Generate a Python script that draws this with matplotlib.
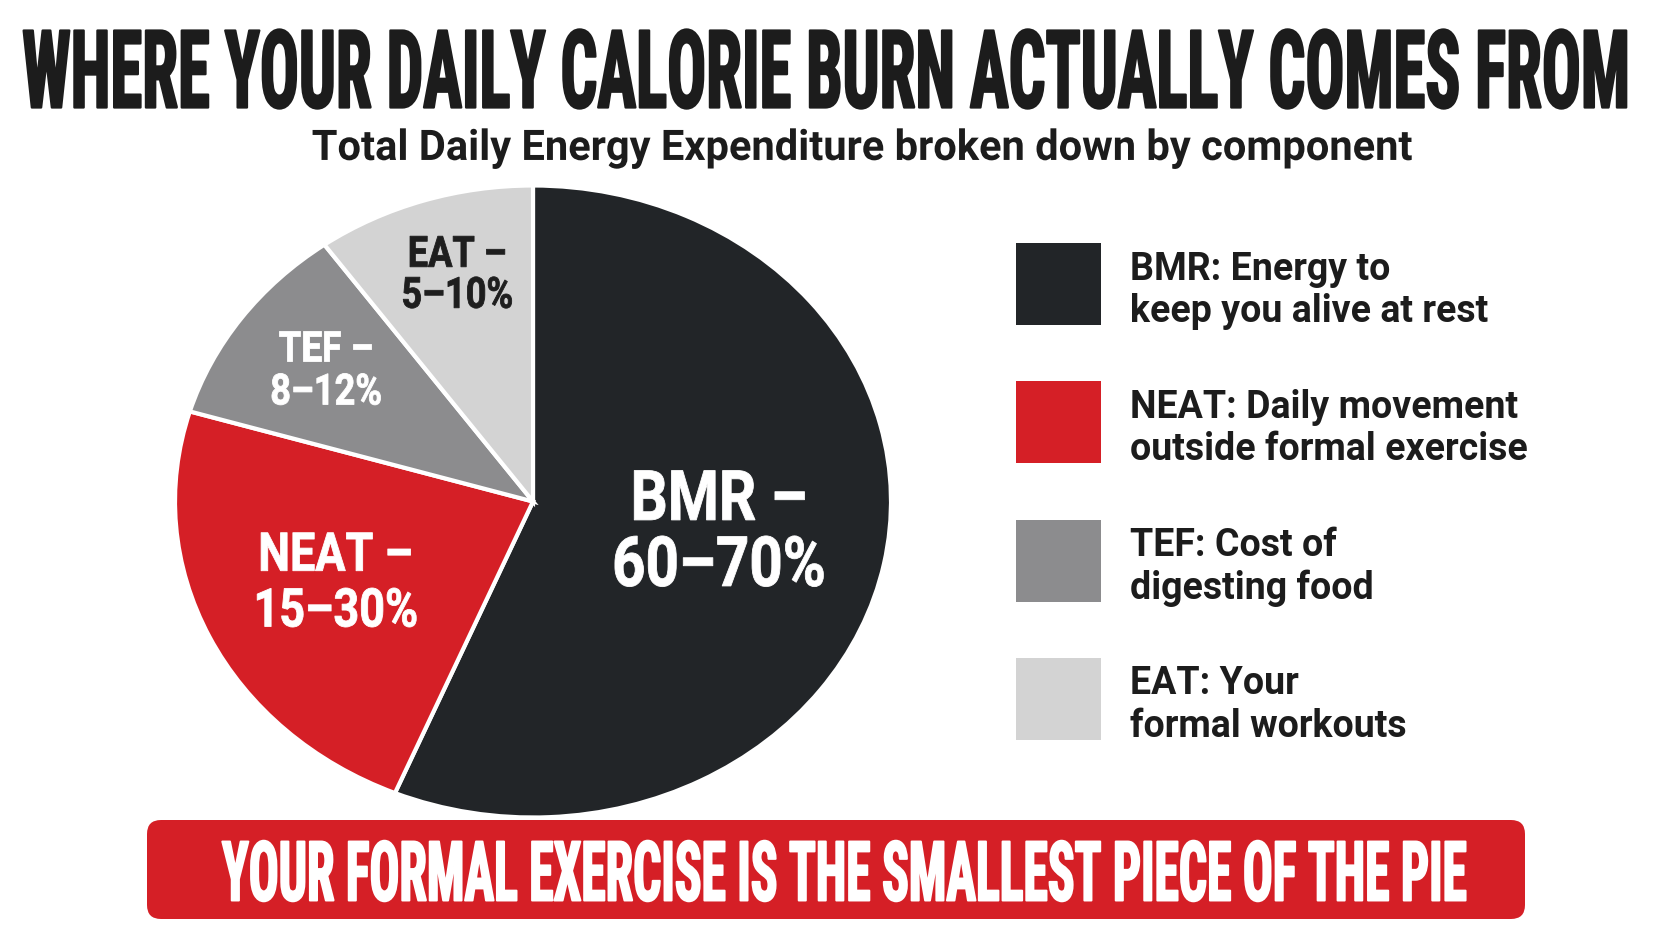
import numpy as np
import matplotlib
matplotlib.use('Agg')
import matplotlib.pyplot as plt
from matplotlib import font_manager as fm
from matplotlib.patches import FancyBboxPatch
from matplotlib.patheffects import AbstractPathEffect
from matplotlib.transforms import Affine2D
from matplotlib.textpath import TextPath

# ---------------- data ----------------
components = ['BMR', 'NEAT', 'TEF', 'EAT']
shares = [56.3, 23.3, 10.5, 9.9]
slice_labels = ['BMR –\n60–70%', 'NEAT –\n15–30%', 'TEF –\n8–12%', 'EAT –\n5–10%']
legend_labels = ['BMR: Energy to\nkeep you alive at rest',
                 'NEAT: Daily movement\noutside formal exercise',
                 'TEF: Cost of\ndigesting food',
                 'EAT: Your\nformal workouts']
title_text = 'WHERE YOUR DAILY CALORIE BURN ACTUALLY COMES FROM'
subtitle_text = 'Total Daily Energy Expenditure broken down by component'
banner_text = 'YOUR FORMAL EXERCISE IS THE SMALLEST PIECE OF THE PIE'

# ---------------- style ----------------
slice_colors = ['#222528', '#D51F26', '#8C8C8E', '#D3D3D3']
label_colors = ['white', 'white', 'white', '#1E1E1E']
label_radius = [0.53, 0.61, 0.71, 0.745]
label_angle_shift = [0, 0, 0, -1.3]
label_sizes = [50, 38.5, 31, 31]
label_spacing = [1.02, 1.12, 1.07, 1.0]
TEXT_DARK = '#1C1C1C'
RED = '#D51F26'

W, H, DPI = 1672, 941, 100
fig = plt.figure(figsize=(W / DPI, H / DPI), dpi=DPI)
fig.patch.set_facecolor('white')
renderer = fig.canvas.get_renderer()


def pick(names):
    have = {f.name for f in fm.fontManager.ttflist}
    for n in names:
        if n in have:
            return n
    return 'DejaVu Sans'


COND = pick(['Liberation Sans Narrow', 'DejaVu Sans Condensed', 'Roboto Condensed', 'DejaVu Sans'])
SANS = pick(['Roboto', 'Inter', 'Open Sans', 'DejaVu Sans'])


class Tall(AbstractPathEffect):
    """Draw glyph outlines scaled about their own centre (poster-style condensed type)."""

    def __init__(self, sy=1.0, sx=1.0, stroke=0.0):
        super().__init__()
        self.sy, self.sx, self.stroke = sy, sx, stroke

    def draw_path(self, renderer, gc, tpath, affine, rgbFace=None):
        ext = tpath.get_extents(affine)
        cx, cy = (ext.x0 + ext.x1) / 2, (ext.y0 + ext.y1) / 2
        tr = affine + Affine2D().translate(-cx, -cy).scale(self.sx, self.sy).translate(cx, cy)
        gc0 = renderer.new_gc()
        gc0.copy_properties(gc)
        if self.stroke > 0 and rgbFace is not None:
            gc0.set_linewidth(self.stroke)
            gc0.set_foreground(rgbFace)
            gc0.set_joinstyle('round')
        renderer.draw_path(gc0, tpath, tr, rgbFace)
        gc0.restore()


def cap_ratio(family, weight='bold'):
    fp = fm.FontProperties(family=family, weight=weight)
    return TextPath((0, 0), 'H', size=1, prop=fp).get_extents().height


def fitted_text(s, family, target_w, cap_px, center_px, color, x_px=W / 2,
                stroke=0.0, weight='bold'):
    t = fig.text(x_px / W, 0.5, s, ha='center', va='baseline', family=family,
                 fontweight=weight, color=color, fontsize=30, zorder=5)
    for _ in range(3):
        w = t.get_window_extent(renderer).width
        t.set_fontsize(t.get_fontsize() * target_w / w)
    em_px = t.get_fontsize() * DPI / 72
    cap_pre = cap_ratio(family, weight) * em_px
    t.set_path_effects([Tall(sy=cap_px / cap_pre, stroke=stroke)])
    t.set_y(1 - (center_px + cap_pre / 2) / H)
    return t


# ---------------- title / subtitle ----------------
fitted_text(title_text, COND, 1608, 77, 69, TEXT_DARK, x_px=827, stroke=1.6)
fitted_text(subtitle_text, SANS, 1100, 30, 145, TEXT_DARK, x_px=862)

# ---------------- pie ----------------
cx, cy, rx, ry = 533, 501.5, 358, 316
lim = 1.1
ax = fig.add_axes([(cx - lim * rx) / W, (H - cy - lim * ry) / H, 2 * lim * rx / W, 2 * lim * ry / H])
wedges, _ = ax.pie(shares, colors=slice_colors, startangle=90, counterclock=False,
                   wedgeprops=dict(edgecolor='white', linewidth=3))
ax.set_aspect('auto')
ax.set_xlim(-lim, lim)
ax.set_ylim(-lim, lim)
ax.axis('off')

for w, lab, col, r, da, fs, ls in zip(wedges, slice_labels, label_colors, label_radius,
                                      label_angle_shift, label_sizes, label_spacing):
    th = np.deg2rad((w.theta1 + w.theta2) / 2 + da)
    t = ax.text(r * np.cos(th), r * np.sin(th), lab, ha='center', va='center',
                multialignment='center', color=col, fontsize=fs, fontweight='bold',
                family=SANS, linespacing=ls)
    t.set_path_effects([Tall(sx=0.84, sy=1.0, stroke=0.6)])

# ---------------- legend ----------------
lf = 27
lpx = lf * DPI / 72
sq_h = 82 / lpx                         # wanted square height in font-size units
hh = (sq_h - 0.245) / 0.65              # legend subtracts a descent heuristic
leg = fig.legend(wedges, legend_labels, loc='upper left',
                 bbox_to_anchor=(1016 / W, 1 - 250.5 / H), bbox_transform=fig.transFigure,
                 frameon=False, borderpad=0, borderaxespad=0,
                 prop=fm.FontProperties(family=SANS, weight='bold', size=lf),
                 handlelength=85 / lpx, handleheight=hh, handletextpad=29 / lpx,
                 labelspacing=1.43)
for h in leg.legend_handles:
    h.set_linewidth(0)
    h.set_y(h.get_y() + 9.5 * 72 / DPI)   # raise swatch relative to its two-line label
for t in leg.get_texts():
    t.set_color(TEXT_DARK)
    t.set_linespacing(1.2)

# ---------------- banner ----------------
bx0, by0, bw, bh = 147, 820, 1378, 99
bax = fig.add_axes([bx0 / W, (H - by0 - bh) / H, bw / W, bh / H])
bax.set_xlim(0, bw)
bax.set_ylim(0, bh)
bax.axis('off')
bax.add_patch(FancyBboxPatch((0, 0), bw, bh, boxstyle='round,pad=0,rounding_size=14',
                             facecolor=RED, edgecolor='none'))
fitted_text(banner_text, COND, 1245, 59, 871, 'white', x_px=845, stroke=1.4)

fig.savefig('out.png', dpi=DPI, facecolor='white')
